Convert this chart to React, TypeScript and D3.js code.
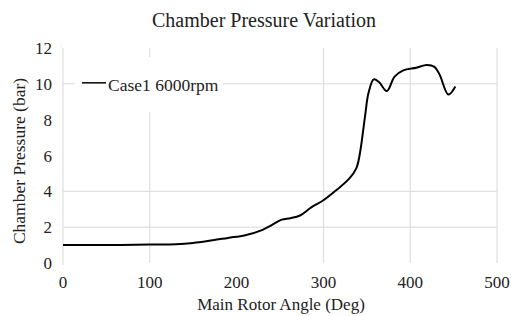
import React from "react";
import * as d3 from "d3";

const angles = [0, 50, 100, 130, 150, 170, 190, 210, 230, 240, 252, 262, 273, 286, 300, 315, 330, 338, 342, 348, 352, 358, 364, 373, 382, 392, 407, 419, 428, 434, 444, 452];
const pressure = [1.0, 1.0, 1.03, 1.05, 1.12, 1.25, 1.4, 1.55, 1.85, 2.1, 2.42, 2.5, 2.65, 3.1, 3.5, 4.07, 4.72, 5.3, 6.1, 8.2, 9.5, 10.25, 10.1, 9.6, 10.4, 10.75, 10.9, 11.05, 10.95, 10.5, 9.4, 9.85];
const xTicks = [0, 100, 200, 300, 400, 500];
const yTicks = [0, 2, 4, 6, 8, 10, 12];
const hGrid = [2, 4, 10];
const vGrid = [100, 300, 400, 500];
const seriesName = "Case1 6000rpm";

export default function App() {
  const W = 511, H = 316;
  const x = d3.scaleLinear().domain([0, 500]).range([63, 497]);
  const y = d3.scaleLinear().domain([0, 12]).range([263, 48]);
  const data = angles.map((a, i) => [a, pressure[i]] as [number, number]);
  const line = d3.line<[number, number]>().x(d => x(d[0])).y(d => y(d[1])).curve(d3.curveCatmullRom.alpha(0.5));
  const font = "'Liberation Serif', 'Times New Roman', serif";
  const grid = "#d9d9d9";
  return (
    <svg width={W} height={H} style={{ position: "absolute", left: 0, top: 0, background: "#fff" }} fontFamily={font}>
      <rect width={W} height={H} fill="#fff" />
      <text x={264} y={27} textAnchor="middle" fontSize={20} fill="#222">Chamber Pressure Variation</text>
      {hGrid.map(v => (
        <line key={"h" + v} x1={x(0)} x2={x(500)} y1={y(v)} y2={y(v)} stroke={grid} strokeWidth={1} />
      ))}
      {vGrid.map(v => (
        <line key={"v" + v} x1={x(v)} x2={x(v)} y1={y(12)} y2={y(0)} stroke={grid} strokeWidth={1} />
      ))}
      <line x1={x(0)} x2={x(0)} y1={y(12)} y2={y(0) + 2} stroke={grid} strokeWidth={1} />
      <rect x={75} y={57} width={148} height={55} fill="#fff" />
      {yTicks.map(v => (
        <text key={"yt" + v} x={52} y={y(v) + 6} textAnchor="end" fontSize={17} fill="#222">{v}</text>
      ))}
      {xTicks.map(v => (
        <text key={"xt" + v} x={x(v)} y={288} textAnchor="middle" fontSize={17} fill="#222">{v}</text>
      ))}
      <text x={281} y={310} textAnchor="middle" fontSize={17} fill="#222">Main Rotor Angle (Deg)</text>
      <text transform="translate(25,161) rotate(-90)" textAnchor="middle" fontSize={17.5} fill="#222">Chamber Pressure (bar)</text>
      <path d={line(data) || ""} fill="none" stroke="#000" strokeWidth={2} />
      <line x1={82} x2={106} y1={y(10) - 1} y2={y(10) - 1} stroke="#000" strokeWidth={1.5} />
      <text x={108} y={91} fontSize={17.5} fill="#222">{seriesName}</text>
    </svg>
  );
}
